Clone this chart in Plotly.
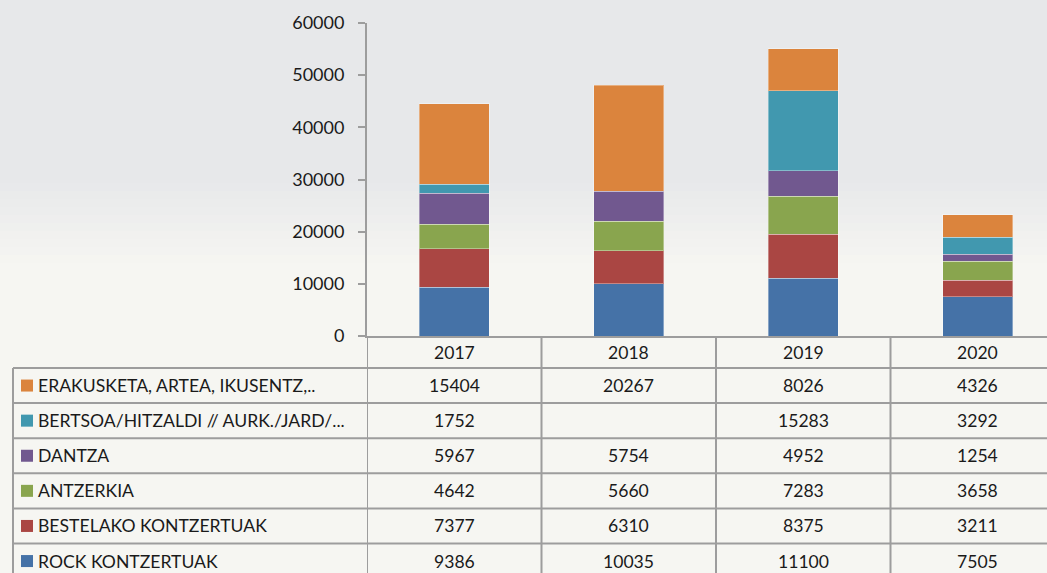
import plotly.graph_objects as go

# ---------------- data ----------------
years = ["2017", "2018", "2019", "2020"]
series_names = [
    "ROCK KONTZERTUAK",
    "BESTELAKO KONTZERTUAK",
    "ANTZERKIA",
    "DANTZA",
    "BERTSOA/HITZALDI // AURK./JARD/...",
    "ERAKUSKETA, ARTEA, IKUSENTZ,..",
]
rock = [9386, 10035, 11100, 7505]
bestelako = [7377, 6310, 8375, 3211]
antzerkia = [4642, 5660, 7283, 3658]
dantza = [5967, 5754, 4952, 1254]
bertsoa = [1752, None, 15283, 3292]
erakusketa = [15404, 20267, 8026, 4326]
y_ticks = [0, 10000, 20000, 30000, 40000, 50000, 60000]

series_values = [rock, bestelako, antzerkia, dantza, bertsoa, erakusketa]
colors = ["#4572A7", "#AA4643", "#89A54E", "#71588F", "#4198AF", "#DB843D"]

# ---------------- geometry helpers ----------------
W, H = 1047, 573
def px(p):
    return p / W
def py(p):
    return 1 - p / H

FONT = "Lato"
TXT = "#1a1a1a"
GRID = "#9d9d9d"
FS = 17.6

fig = go.Figure()
for name, vals, col in zip(series_names, series_values, colors):
    fig.add_trace(go.Bar(
        x=years, y=vals, name=name, width=0.4,
        marker=dict(color=col, line=dict(color="rgba(255,255,255,0.35)", width=1)),
        showlegend=False,
    ))

shapes = []
# background gradient bands
top = (231, 232, 234)
bot = (246, 246, 242)
shapes.append(dict(type="rect", xref="paper", yref="paper", x0=0, x1=1, y0=py(175), y1=1,
                   fillcolor="rgb(%d,%d,%d)" % top, line=dict(width=0), layer="below"))
n = 12
for i in range(n):
    a = i / (n - 1)
    c = tuple(int(round(top[k] + (bot[k] - top[k]) * a)) for k in range(3))
    y0p = 175 + i * 8
    shapes.append(dict(type="rect", xref="paper", yref="paper", x0=0, x1=1,
                       y0=py(y0p + 8), y1=py(y0p),
                       fillcolor="rgb(%d,%d,%d)" % c, line=dict(width=0), layer="below"))

# table geometry (pixels)
axis_y = 336
header_bottom = 368
row_h = 35.1
n_rows = len(series_names)
row_tops = [header_bottom + i * row_h for i in range(n_rows + 1)]
label_left = 13

shapes.append(dict(type="line", xref="paper", yref="paper", x0=px(label_left), x1=1,
                   y0=py(header_bottom), y1=py(header_bottom), line=dict(color=GRID, width=2)))
for t in row_tops[1:]:
    shapes.append(dict(type="line", xref="paper", yref="paper", x0=px(label_left), x1=1,
                       y0=py(t), y1=py(t), line=dict(color=GRID, width=2)))
shapes.append(dict(type="line", xref="paper", yref="paper", x0=px(label_left), x1=px(label_left),
                   y0=py(header_bottom), y1=0, line=dict(color=GRID, width=2)))
for i in range(len(years)):
    shapes.append(dict(type="line", xref="x", yref="paper", x0=i - 0.5, x1=i - 0.5,
                       y0=py(axis_y), y1=0, line=dict(color=GRID, width=2)))

annotations = []
for i, yr in enumerate(years):
    annotations.append(dict(x=i, y=py((axis_y + header_bottom) / 2), xref="x", yref="paper",
                            text=yr, showarrow=False, xanchor="center", yanchor="middle",
                            font=dict(family=FONT, size=FS, color=TXT)))
display_order = list(range(n_rows))[::-1]
for r, si in enumerate(display_order):
    cy = row_tops[r] + row_h / 2
    shapes.append(dict(type="rect", xref="paper", yref="paper", x0=px(21), x1=px(33),
                       y0=py(cy + 6), y1=py(cy - 6), fillcolor=colors[si], line=dict(width=0)))
    annotations.append(dict(x=px(36), y=py(cy), xref="paper", yref="paper",
                            text=series_names[si], showarrow=False, xanchor="left", yanchor="middle",
                            font=dict(family=FONT, size=FS, color=TXT)))
    for i, v in enumerate(series_values[si]):
        if v is None:
            continue
        annotations.append(dict(x=i, y=py(cy), xref="x", yref="paper",
                                text=str(v), showarrow=False, xanchor="center", yanchor="middle",
                                font=dict(family=FONT, size=FS, color=TXT)))

cat_w = 174.5
x_end = -0.5 + (W - 367) / cat_w

fig.update_layout(
    width=W, height=H,
    margin=dict(l=0, r=0, t=0, b=0, autoexpand=False),
    barmode="stack",
    paper_bgcolor="rgb(246,246,242)",
    plot_bgcolor="rgba(0,0,0,0)",
    shapes=shapes,
    annotations=annotations,
    xaxis=dict(type="category", domain=[px(367), 1], range=[-0.5, x_end], showticklabels=False,
               showline=True, linecolor=GRID, linewidth=2, ticks="", showgrid=False,
               zeroline=False, fixedrange=True, automargin=False),
    yaxis=dict(domain=[py(axis_y), py(23)], range=[0, 60000], tickvals=y_ticks, tickformat="d",
               showline=True, linecolor=GRID, linewidth=2, ticks="outside", ticklen=7,
               tickcolor=GRID, tickwidth=2, showgrid=False, zeroline=False,
               ticklabelstandoff=10, automargin=False,
               tickfont=dict(family=FONT, size=18, color=TXT), fixedrange=True),
)

fig.write_html("out.html", config={"displayModeBar": False},
               post_script="document.body.style.margin='0';document.body.style.background='rgb(246,246,242)';")
